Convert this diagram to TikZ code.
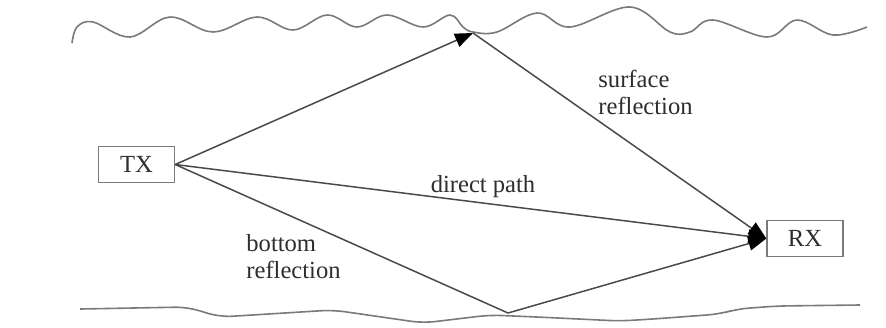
\documentclass[tikz,border=0pt]{standalone}
\usepackage{fontspec}
\setmainfont{Liberation Serif}
\usetikzlibrary{positioning, arrows.meta}

\definecolor{wavegray}{HTML}{7A7A7A}
\definecolor{raygray}{HTML}{4A4A4A}
\definecolor{inkgray}{HTML}{2E2E2E}

\begin{document}
\begin{tikzpicture}[x=0.5pt, y=-0.5pt, font=\fontsize{12.3}{13.6}\selectfont,
  >={Triangle[length=9pt, width=7pt, color=black]},
  box/.style={draw=wavegray, line width=0.7pt, rectangle, minimum width=38pt,
    minimum height=18pt, inner sep=0pt, text=inkgray},
  ray/.style={draw=raygray, line width=0.75pt},
  surf/.style={draw=wavegray, line width=0.8pt},
  lbl/.style={text=inkgray, inner sep=0pt, align=left}]
  \useasboundingbox[fill=white] (0,0) rectangle (886,327);

  % water surface and sea bottom
  \draw[surf] plot[smooth, tension=0.6] coordinates {(72,43) (77,27) (93,22)
    (130,37) (170,17) (213,32) (257,17) (293,30) (327,15) (357,27) (387,15)
    (423,27) (450,15) (463,27) (473,32) (497,32) (537,13) (570,27) (630,7)
    (670,32) (690,32) (713,20) (767,37) (797,20) (833,35) (867,27)};
  \draw[surf, rounded corners=6pt] (80,309) -- (187,307) -- (220,317)
    -- (333,310) -- (423,323) -- (490,315) -- (537,317) -- (620,321)
    -- (653,319) -- (720,314) -- (737,309) -- (777,306) -- (860,305);

  \node[box] (tx) at (136.5,164.5) {TX};
  \node[box] (rx) at (805,238.5) {RX};
  \coordinate (top) at (473,33);
  \coordinate (bot) at (508,313);

  \draw[ray, ->] (tx.east) -- (top);
  \draw[ray, ->] (top) -- (rx.west);
  \draw[ray, ->] (tx.east) -- (rx.west);
  \draw[ray] (tx.east) -- (bot);
  \draw[ray, ->] (bot) -- (rx.west);

  \node[lbl, anchor=north west] (surflbl) at (598,70) {surface\\reflection};
  \node[lbl, anchor=base] (directlbl) at (483,192) {direct path};
  \node[lbl, anchor=north west] (botlbl) at (246,234) {bottom\\reflection};
\end{tikzpicture}
\end{document}
